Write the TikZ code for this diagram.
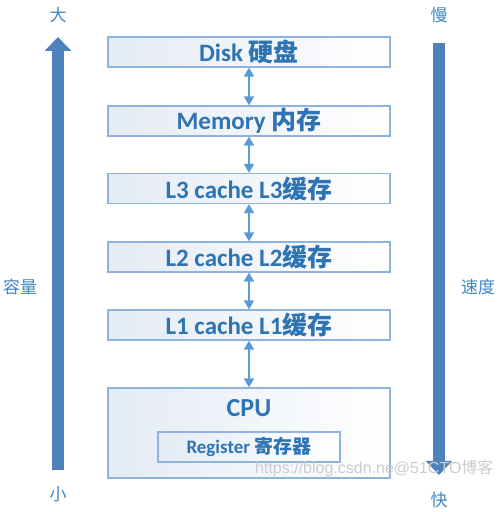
\documentclass[tikz,border=0pt]{standalone}
\usepackage{fontspec}
\setmainfont{Carlito}
\newfontfamily\cjk{Noto Sans CJK SC}
\newfontfamily\wmfont{Liberation Sans}
\usetikzlibrary{arrows.meta}
\definecolor{txt}{HTML}{2E74B5}
\definecolor{sidetxt}{HTML}{3D85C6}
\definecolor{edgec}{HTML}{8DB3E2}
\definecolor{conn}{HTML}{5B9BD5}
\definecolor{bigc}{HTML}{4F81BD}
\definecolor{fillL}{HTML}{E4EBF5}
\begin{document}
\begin{tikzpicture}[x=1pt,y=-1pt,
  box/.style={draw=edgec, line width=1.2pt, left color=fillL, right color=white,
    minimum width=282pt, minimum height=30pt, inner sep=0pt,
    font=\fontsize{25}{28}\selectfont\bfseries, text=txt},
  link/.style={draw=conn, line width=2pt,
    {Triangle[width=10pt,length=9pt]}-{Triangle[width=10pt,length=9pt]}},
  bigarr/.style={draw=bigc, line width=12pt, -{Triangle[width=26pt,length=14pt]}},
  side/.style={font=\cjk\fontsize{17}{19}\selectfont, text=sidetxt, inner sep=0pt}]
\useasboundingbox (0,0) rectangle (500,512);
% memory boxes
\node[box] (disk) at (249,52) {Disk {\cjk 硬盘}};
\node[box] (mem) at (249,121) {Memory {\cjk 内存}};
\node[box] (l3) at (249,188.5) {L3 cache L3{\cjk 缓存}};
\node[box] (l2) at (249,257) {L2 cache L2{\cjk 缓存}};
\node[box] (l1) at (249,325) {L1 cache L1{\cjk 缓存}};
\node[box, minimum height=90pt] (cpu) at (249,433) {};
\node[font=\fontsize{26}{29}\selectfont\bfseries, text=txt, inner sep=0pt] (cputxt) at (249,408) {CPU};
\node[box, minimum width=182pt, font=\fontsize{19}{21}\selectfont\bfseries] (reg) at (249,447) {Register {\cjk 寄存器}};
% links
\draw[link] (disk) -- (mem);
\draw[link] (mem) -- (l3);
\draw[link] (l3) -- (l2);
\draw[link] (l2) -- (l1);
\draw[link] (l1) -- (cpu);
% side arrows
\node[side] (da) at (58,15) {大};
\node[side] (xiao) at (58,494) {小};
\node[side] (rongliang) at (20,287) {容量};
\draw[bigarr, shorten <=16pt, shorten >=14pt] (xiao) -- (da);
\node[side] (man) at (439,15) {慢};
\node[side] (kuai) at (439,500) {快};
\node[side] (sudu) at (478,287) {速度};
\draw[bigarr, shorten <=20pt, shorten >=17pt] (man) -- (kuai);
% watermark
\node[anchor=base west, inner sep=0pt, font=\wmfont\fontsize{16}{18}\selectfont, text=black!20] (wm) at (255,473) {https://blog.csdn.ne@51CTO{\cjk 博客}};
\end{tikzpicture}
\end{document}
